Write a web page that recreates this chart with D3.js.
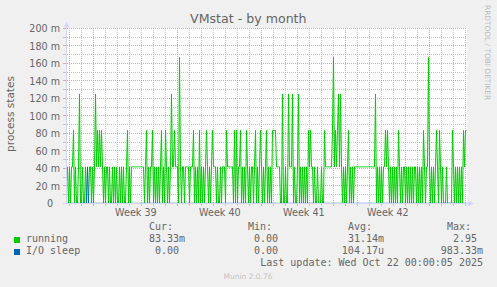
<!DOCTYPE html>
<html>
<head>
<meta charset="utf-8">
<script src="https://cdnjs.cloudflare.com/ajax/libs/d3/7.8.5/d3.min.js"></script>
<style>
    html, body { margin: 0; padding: 0; background: #f0f0f0; }
    svg { display: block; }
    text { font-family: "DejaVu Sans", sans-serif; fill: #666; }
    .mono { font-family: "DejaVu Sans Mono", monospace; font-size: 10px; white-space: pre; }
</style>
</head>
<body>
<svg id="chart" width="497" height="287"></svg>
<script>
// values in milli-processes (2 h averages of 5 min samples)
var Z = 0, A = 41.67, B = 83.33, C = 125, D = 166.67;

// running, one value per 2 h slot, split at the monday grid lines
var runningSep19 = [A,Z,A,Z,A,A,B,Z,A,Z,Z,A,C,Z,Z,A,Z,Z,A,Z,Z,Z,A,A,Z,A];
var runningWeek39 = [Z,A,C,A,B,A,B,A,B,A, Z,A,Z,A,A,Z,A,Z,Z,A,Z,A,Z,A,Z,Z,A,Z,A,Z,A,Z,Z,A, B, Z,A,Z,A,
    A,A,A,A,A,A,A,A,A,A,A,A, Z,A,B,Z, A,Z,A,A, B, Z,A,Z,A,Z,A,Z,A, B, Z,A,Z,B,A,Z,A,Z,A,C,A,A,B,A,A];
var runningWeek40 = [A,Z,D, A,Z,A,A,Z,A,A,A,A,Z,A,A,A, B, Z,A,Z,A,Z, B, Z,A,Z,A,Z,A, B, A,Z,A,Z,A, B,
    A,A,A,Z,A,Z,Z,A,Z,A,A,A,Z, B, A,A,A,A,A,A,Z, B, Z,B,Z,A,A, B, Z,A,Z,A,Z, B, A,Z,A,Z,A,A,Z,A, B, Z,A,Z,A, B];
var runningWeek41 = [A,Z,A,Z,A, B, Z,A,Z,A,Z, B,B,B,B, A,A,A,A, Z,Z, C, Z,Z,A,Z,Z, C, A,A,A, C, Z,A,Z,Z,A, C,
    Z,A,Z,A,Z,A,Z,A,Z, B,A,B, A,A,Z,A, Z,Z,A,Z,Z,Z,A,Z,Z, B, A,A,A,A,A,A, A,B, D,A,B,A,B,C,A,C, A,Z,A,Z];
var runningWeek42 = [A,Z,A, B, Z,A,Z,A,Z,A, A,A,A,A,A,A,A,A,A,A,A,A,A,A,A,A,A,A,A,A, C, Z,A,Z,A,Z,A,Z,A, A,B,A,B,
    A,Z,A,Z,A,Z,A,Z,A,Z, B, A,Z,A,Z,A,A,Z,A,Z,A,Z,A,Z,A,Z,A,A,Z,A,Z,A,Z,A,Z, B, A,Z,A,A, D];
var runningWeek43 = [A,Z,A,Z,A,Z,A, B, A,Z, B, A,Z,A,Z,Z,Z,A,Z,Z,Z,Z,Z, B, A,Z,A,Z,A,Z,A,Z,A,Z, B, A, B, B];

// I/O sleep is zero except for one slot
var ioSleepSpikes = [{slot: 20, value: A}];

var yTicks = [0, 20, 40, 60, 80, 100, 120, 140, 160, 180, 200];
var yTickLabels = ["0", "20 m", "40 m", "60 m", "80 m", "100 m", "120 m", "140 m", "160 m", "180 m", "200 m"];
var yMinorTicks = [10, 30, 50, 70, 90, 110, 130, 150, 170, 190];

var seriesNames = ["running", "I/O sleep"];
var legendCur = ["83.33m", "0.00 "];
var legendMin = ["0.00 ", "0.00 "];
var legendAvg = ["31.14m", "104.17u"];
var legendMax = ["2.95 ", "983.33m"];
var legendHeads = ["Cur:", "Min:", "Avg:", "Max:"];

var colors = {running: "#00cc00", io: "#0066b3", axis: "#cfd6f8", grid: "#c4c4c4", mgrid: "#e0a4a4"};

var start = Date.UTC(2025, 8, 19, 19, 20),
    slot = 2 * 3600 * 1000;

var running = [].concat(runningSep19, runningWeek39, runningWeek40, runningWeek41, runningWeek42, runningWeek43)
    .map((v, i) => ({t: new Date(start + (i + 0.5) * slot), v: v}));
var ioSleep = running.map((d, i) => {
    var s = ioSleepSpikes.find(p => p.slot == i);
    return {t: d.t, v: s ? s.value : 0};
});

var svg = d3.select("#chart"),
    margins = {"left": 67, "right": 30, "top": 28.3, "bottom": 83.7},
    width = 497, height = 287;

var end = new Date(start + running.length * slot);
var x = d3.scaleUtc().domain([new Date(start), end]).range([margins.left, width - margins.right]),
    y = d3.scaleLinear().domain([0, 200]).range([height - margins.bottom, margins.top]);
var px = v => Math.floor(v) + 0.5;

// canvas
svg.append("rect").attr("x", 67).attr("y", 28).attr("width", 400).attr("height", 175).attr("fill", "#fff");

// grid
var grid = svg.append("g").attr("stroke-width", 1);
var days = d3.utcDay.range(new Date(start), end),
    mondays = d3.utcMonday.range(new Date(start), end);

grid.selectAll(".vmin").data(days.filter(d => d.getUTCDay() != 1)).enter().append("path")
    .attr("d", d => "M" + px(x(d)) + ",28V203").attr("stroke", colors.grid).attr("stroke-dasharray", "1,1");
grid.selectAll(".vmint").data(days.filter(d => d.getUTCDay() != 1)).enter().append("path")
    .attr("d", d => "M" + px(x(d)) + ",204V206").attr("stroke", colors.grid);
grid.selectAll(".hmin").data(yMinorTicks).enter().append("path")
    .attr("d", d => "M67," + px(y(d)) + "H467").attr("stroke", colors.grid).attr("stroke-dasharray", "1,1");
grid.selectAll(".hmint").data(yMinorTicks).enter().append("path")
    .attr("d", d => "M63," + px(y(d)) + "H66").attr("stroke", colors.grid);

grid.selectAll(".vmaj").data(mondays).enter().append("path")
    .attr("d", d => "M" + px(x(d)) + ",28V203").attr("stroke", colors.mgrid).attr("stroke-dasharray", "1,1");
grid.selectAll(".vmajt").data(mondays).enter().append("path")
    .attr("d", d => "M" + px(x(d)) + ",204V206").attr("stroke", colors.mgrid);
grid.selectAll(".hmaj").data(yTicks.slice(1)).enter().append("path")
    .attr("d", d => "M67," + px(y(d)) + "H467").attr("stroke", colors.mgrid).attr("stroke-dasharray", "1,1");
grid.selectAll(".hmajt").data(yTicks.slice(1)).enter().append("path")
    .attr("d", d => "M63," + px(y(d)) + "H66").attr("stroke", colors.mgrid);

// lines
var line = d3.line().x(d => x(d.t)).y(d => y(d.v));
svg.append("path").datum(running).attr("d", line)
    .attr("fill", "none").attr("stroke", colors.running).attr("stroke-width", 1).attr("stroke-linejoin", "round");
svg.append("path").datum(ioSleep).attr("d", line)
    .attr("fill", "none").attr("stroke", colors.io).attr("stroke-width", 1).attr("stroke-linejoin", "round");

// axes + arrows
svg.append("path").attr("d", "M66.5,203.5V26").attr("stroke", colors.axis);
svg.append("path").attr("d", "M63,203.5H469").attr("stroke", colors.axis);
svg.append("path").attr("d", "M64,27L69,27L66.5,21.5Z").attr("fill", colors.axis);
svg.append("path").attr("d", "M468,201L468,206L474,203.5Z").attr("fill", colors.axis);

var yAxis = d3.axisLeft(y).tickValues(yTicks).tickFormat((d, i) => yTickLabels[i]).tickSize(0).tickPadding(0);
var yg = svg.append("g").attr("transform", "translate(60,0)").call(yAxis);
yg.select(".domain").remove();
yg.attr("font-family", null).attr("font-size", null);
yg.selectAll("text").attr("font-size", "9.6px").attr("fill", "#666")
    .attr("dx", d => d == 0 ? -7 : 0).attr("y", 0).attr("dy", "0.36em");

var weekMids = mondays.concat([d3.utcMonday.offset(mondays[0], -1)])
    .map(d => d3.utcHour.offset(d, 84)).filter(d => d > x.domain()[0] && d < x.domain()[1]);
var xAxis = d3.axisBottom(x).tickValues(weekMids).tickFormat(d3.utcFormat("Week %V")).tickSize(0).tickPadding(0);
var xg = svg.append("g").attr("transform", "translate(0,216)").call(xAxis);
xg.select(".domain").remove();
xg.attr("font-family", null).attr("font-size", null);
xg.selectAll("text").attr("font-size", "9.6px").attr("fill", "#666").attr("y", 0).attr("dy", 0);

// titles
svg.append("text").attr("x", 248.3).attr("y", 22.5).attr("text-anchor", "middle")
    .style("font-size", "12.6px").text("VMstat - by month");
svg.append("text").attr("transform", "translate(14,114) rotate(-90)").attr("text-anchor", "middle")
    .style("font-size", "10.5px").text("process states");
svg.append("text").attr("transform", "translate(485,5) rotate(90)")
    .style("font-size", "7.4px").style("fill", "#bbb").text("RRDTOOL / TOBI OETIKER");

// legend
var colEnds = [185, 284, 384, 483];
var legend = svg.append("g");
legend.selectAll(".head").data(legendHeads).enter().append("text").classed("mono", true)
    .attr("x", (d, i) => colEnds[i] - 12).attr("y", 230).attr("text-anchor", "end").text(d => d);

seriesNames.forEach((name, r) => {
    var base = 242 + r * 12;
    legend.append("rect").attr("x", 14).attr("y", base - 5).attr("width", 6).attr("height", 6)
        .attr("fill", r == 0 ? colors.running : colors.io);
    legend.append("text").classed("mono", true).attr("x", 26).attr("y", base).text(name);
    [legendCur, legendMin, legendAvg, legendMax].forEach((col, c) => {
        legend.append("text").classed("mono", true).attr("xml:space", "preserve")
            .attr("x", colEnds[c]).attr("y", base).attr("text-anchor", "end").text(col[r]);
    });
});

legend.append("text").classed("mono", true).attr("x", 483).attr("y", 266).attr("text-anchor", "end")
    .text("Last update: Wed Oct 22 00:00:05 2025");

svg.append("text").attr("x", 248).attr("y", 279).attr("text-anchor", "middle")
    .style("font-size", "7.5px").style("fill", "#c4c4c4").text("Munin 2.0.76");
</script>
</body>
</html>
